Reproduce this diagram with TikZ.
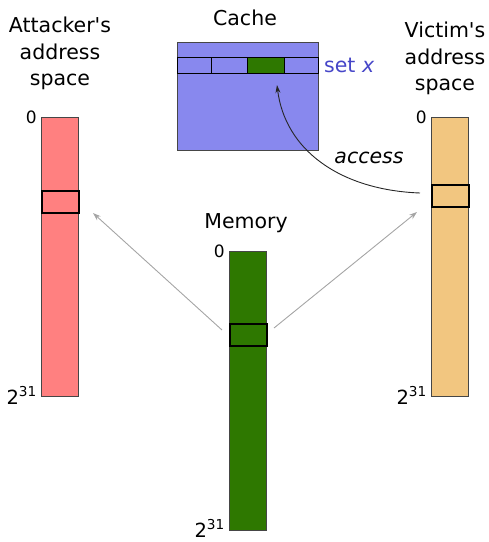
\documentclass[tikz,border=0pt]{standalone}
\usepackage{fontspec}
\setmainfont{DejaVu Sans}
% same family without the TeX quote mapping, so apostrophes stay straight
\newfontfamily\plainfont{DejaVu Sans}
\usetikzlibrary{arrows.meta}
\definecolor{attackred}{RGB}{255,128,128}
\definecolor{victimtan}{RGB}{242,198,128}
\definecolor{memgreen}{RGB}{46,120,0}
\definecolor{cacheblue}{RGB}{136,136,238}
\definecolor{setblue}{RGB}{70,70,200}
\definecolor{edgegray}{RGB}{70,70,70}
\definecolor{linkgray}{RGB}{165,165,165}
\tikzset{
  bar/.style={draw=edgegray, line width=0.9pt, minimum width=37pt, minimum height=279pt, inner sep=0pt, anchor=north west},
  blockbox/.style={draw=black, line width=1.6pt, minimum width=37pt, minimum height=22pt, inner sep=0pt},
  cell/.style={draw=black, line width=1.1pt, minimum height=16pt, inner sep=0pt, anchor=north west},
  title/.style={font=\plainfont\fontsize{20.5}{26.5}\selectfont, align=center, inner sep=0pt, anchor=north},
  addr/.style={font=\fontsize{17}{20}\selectfont, inner sep=0pt, anchor=east},
  top/.style={font=\fontsize{19.5}{24}\selectfont, inner sep=0pt, anchor=east},
  mapping/.style={draw=linkgray, line width=0.9pt, -{Stealth[length=8pt,width=5.5pt]}},
  accessarrow/.style={draw=black!85, line width=0.9pt, -{Stealth[length=8pt,width=5pt]}}
}
\begin{document}
\begin{tikzpicture}[x=1pt,y=-1pt]
\useasboundingbox (0,0) rectangle (489,542);

% cache with one highlighted set
\node[draw=edgegray, line width=0.9pt, fill=cacheblue, minimum width=141pt, minimum height=108pt, inner sep=0pt, anchor=north west] (cache) at (177,42) {};
\node[cell, minimum width=34pt] (c1) at (177,57) {};
\node[cell, minimum width=36pt] (c2) at (211,57) {};
\node[cell, minimum width=37pt, fill=memgreen] (c3) at (247,57) {};
\node[cell, minimum width=34pt] (c4) at (284,57) {};
\node[font=\fontsize{20.5}{24}\selectfont, text=setblue, anchor=west, inner sep=0pt] (setx) at (324,65) {set \textit{x}};
\node[title, anchor=base] (cachelbl) at (245,25) {Cache};

% address spaces
\node[bar, fill=attackred] (abar) at (41,117) {};
\node[bar, fill=victimtan] (vbar) at (431,117) {};
\node[bar, fill=memgreen] (mbar) at (229,251) {};

\node[blockbox, fill=attackred, anchor=north west] (ablock) at (41,190) {};
\node[blockbox, fill=victimtan, anchor=north west] (vblock) at (431,184) {};
\node[blockbox, fill=memgreen, anchor=north west] (mblock) at (229,323) {};

\node[title] (alabel) at (60,17) {Attacker's\\address\\space};
\node[title] (vlabel) at (445,22) {Victim's\\address\\space};
\node[title, anchor=base] (mlabel) at (246,228) {Memory};

\node[addr] (a0) at (37,117) {0};
\node[addr] (v0) at (427,117) {0};
\node[addr] (m0) at (225,251) {0};
\node[top, anchor=base east] (a231) at (37,404) {2\textsuperscript{31}};
\node[top, anchor=base east] (v231) at (427,404) {2\textsuperscript{31}};
\node[top, anchor=base east] (m231) at (225,537) {2\textsuperscript{31}};

% mappings from physical memory
\coordinate (mleft) at (222,330);
\coordinate (mright) at (274,328);
\coordinate (aend) at (93,213);
\coordinate (vend) at (417,212);
\draw[mapping] (mleft) -- (aend);
\draw[mapping] (mright) -- (vend);

% victim access into the cache set
\coordinate (accstart) at (420,193);
\coordinate (accend) at (277,85);
\draw[accessarrow] (accstart) .. controls (340,190) and (285,150) .. (accend);
\node[font=\fontsize{20.5}{24}\selectfont\itshape, inner sep=0pt] (acclbl) at (369,158) {access};
\end{tikzpicture}
\end{document}
